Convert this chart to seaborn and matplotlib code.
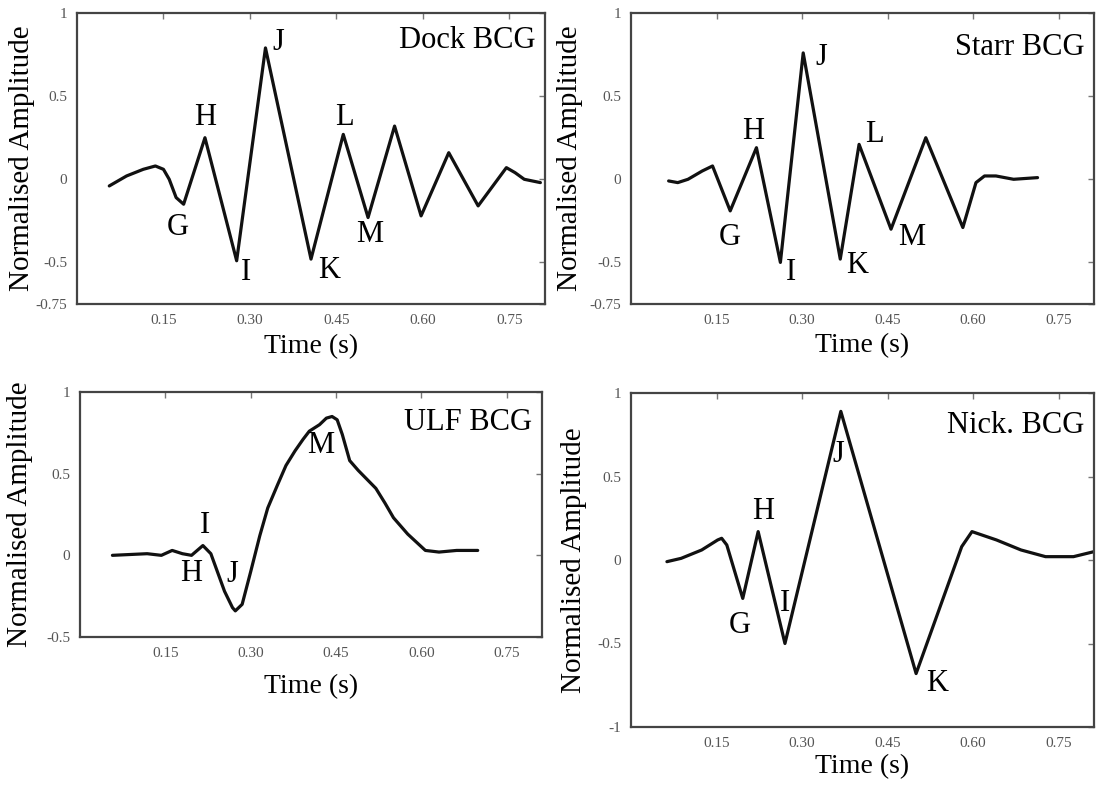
import numpy as np
import pandas as pd
import matplotlib
matplotlib.use("Agg")
import matplotlib.pyplot as plt
import seaborn as sns

# ---------------- data ----------------
dock_t = [0.056, 0.086, 0.115, 0.136, 0.150, 0.160, 0.172, 0.185, 0.222, 0.277,
          0.327, 0.406, 0.462, 0.505, 0.551, 0.597, 0.645, 0.696, 0.745, 0.760,
          0.776, 0.804]
dock_a = [-0.04, 0.02, 0.06, 0.08, 0.06, 0.00, -0.11, -0.15, 0.25, -0.49,
          0.79, -0.48, 0.27, -0.23, 0.32, -0.22, 0.16, -0.16, 0.07, 0.04,
          0.00, -0.02]
dock_labels = ["G", "H", "I", "J", "K", "L", "M"]
dock_lab_t = [0.175, 0.222, 0.293, 0.350, 0.437, 0.464, 0.508]
dock_lab_a = [-0.29, 0.37, -0.56, 0.82, -0.55, 0.37, -0.33]

starr_t = [0.066, 0.082, 0.100, 0.125, 0.143, 0.174, 0.220, 0.262, 0.302, 0.367,
           0.400, 0.456, 0.517, 0.582, 0.605, 0.620, 0.640, 0.671, 0.713]
starr_a = [-0.01, -0.02, 0.00, 0.05, 0.08, -0.19, 0.19, -0.50, 0.76, -0.48,
           0.21, -0.30, 0.25, -0.29, -0.02, 0.02, 0.02, 0.00, 0.01]
starr_labels = ["G", "H", "I", "J", "K", "L", "M"]
starr_lab_t = [0.174, 0.214, 0.281, 0.334, 0.396, 0.427, 0.492]
starr_lab_a = [-0.35, 0.29, -0.56, 0.73, -0.52, 0.27, -0.35]

ulf_t = [0.057, 0.118, 0.143, 0.162, 0.180, 0.196, 0.216, 0.230, 0.254, 0.268, 0.273,
         0.285, 0.300, 0.316, 0.330, 0.347, 0.362, 0.378, 0.392, 0.403, 0.421, 0.433,
         0.443, 0.452, 0.461, 0.474, 0.489, 0.520, 0.536, 0.551, 0.576, 0.607,
         0.631, 0.662, 0.699]
ulf_a = [0.00, 0.01, 0.00, 0.03, 0.01, 0.00, 0.06, 0.01, -0.22, -0.32, -0.34,
         -0.30, -0.10, 0.12, 0.29, 0.43, 0.55, 0.64, 0.71, 0.76, 0.80, 0.84,
         0.85, 0.83, 0.74, 0.58, 0.52, 0.41, 0.32, 0.23, 0.13, 0.03,
         0.02, 0.03, 0.03]
ulf_labels = ["I", "H", "J", "M"]
ulf_lab_t = [0.219, 0.196, 0.268, 0.423]
ulf_lab_a = [0.18, -0.11, -0.12, 0.67]

nick_t = [0.063, 0.088, 0.124, 0.152, 0.159, 0.168, 0.196, 0.223, 0.270, 0.368,
          0.500, 0.580, 0.598, 0.641, 0.684, 0.727, 0.776, 0.812]
nick_a = [-0.01, 0.01, 0.06, 0.12, 0.13, 0.09, -0.23, 0.17, -0.50, 0.89,
          -0.68, 0.08, 0.17, 0.12, 0.06, 0.02, 0.02, 0.05]
nick_labels = ["G", "H", "I", "J", "K"]
nick_lab_t = [0.191, 0.232, 0.270, 0.364, 0.537]
nick_lab_a = [-0.39, 0.29, -0.26, 0.63, -0.74]

titles = ["Dock BCG", "Starr BCG", "ULF BCG", "Nick. BCG"]
x_ticks = [0.15, 0.30, 0.45, 0.60, 0.75]
x_ticklabels = ["0.15", "0.30", "0.45", "0.60", "0.75"]
y_ticks_a = [1, 0.5, 0, -0.5, -0.75]
y_ticklabels_a = ["1", "0.5", "0", "-0.5", "-0.75"]
y_ticks_c = [1, 0.5, 0, -0.5]
y_ticklabels_c = ["1", "0.5", "0", "-0.5"]
y_ticks_d = [1, 0.5, 0, -0.5, -1]
y_ticklabels_d = ["1", "0.5", "0", "-0.5", "-1"]

# ---------------- style ----------------
sns.set_style("white")
plt.rcParams["font.family"] = ["Liberation Serif", "DejaVu Serif"]

W, H = 1098, 789
fig = plt.figure(figsize=(W / 100, H / 100), dpi=100)

def make_axes(left, right, top, bottom):
    return fig.add_axes([left / W, 1 - bottom / H, (right - left) / W, (bottom - top) / H])

panels = [
    dict(box=(77, 545, 13, 304), t=dock_t, a=dock_a, ylim=(-0.75, 1),
         yt=y_ticks_a, ytl=y_ticklabels_a, labs=(dock_labels, dock_lab_t, dock_lab_a),
         title_y=0.955, ylab_x=-0.090, xlab_y=-0.103),
    dict(box=(631, 1094, 13, 304), t=starr_t, a=starr_a, ylim=(-0.75, 1),
         yt=y_ticks_a, ytl=y_ticklabels_a, labs=(starr_labels, starr_lab_t, starr_lab_a),
         title_y=0.93, ylab_x=-0.104, xlab_y=-0.100),
    dict(box=(80, 542, 392, 637), t=ulf_t, a=ulf_a, ylim=(-0.5, 1),
         yt=y_ticks_c, ytl=y_ticklabels_c, labs=(ulf_labels, ulf_lab_t, ulf_lab_a),
         title_y=0.935, ylab_x=-0.102, xlab_y=-0.151),
    dict(box=(631, 1094, 393, 727), t=nick_t, a=nick_a, ylim=(-1, 1),
         yt=y_ticks_d, ytl=y_ticklabels_d, labs=(nick_labels, nick_lab_t, nick_lab_a),
         title_y=0.945, ylab_x=-0.095, xlab_y=-0.081),
]

for p, title in zip(panels, titles):
    ax = make_axes(*p["box"])
    df = pd.DataFrame({"t": p["t"], "a": p["a"]})
    sns.lineplot(data=df, x="t", y="a", ax=ax, color="#111111", linewidth=2.3,
                 sort=False, estimator=None, solid_joinstyle="round",
                 solid_capstyle="round")
    ax.set_xlim(0, 0.812)
    ax.set_ylim(*p["ylim"])
    ax.set_xticks(x_ticks)
    ax.set_xticklabels(x_ticklabels)
    ax.set_yticks(p["yt"])
    ax.set_yticklabels(p["ytl"])
    ax.tick_params(direction="in", length=4, width=1, colors="#777777",
                   labelcolor="#555555", labelsize=11, top=True, right=True,
                   pad=7)
    for s in ax.spines.values():
        s.set_visible(True)
        s.set_color("#444444")
        s.set_linewidth(1.6)
    ax.set_xlabel("Time (s)", fontsize=20, color="black")
    ax.set_ylabel("Normalised Amplitude", fontsize=21, color="black")
    ax.yaxis.set_label_coords(p["ylab_x"], 0.5)
    ax.xaxis.set_label_coords(0.5, p["xlab_y"])
    ax.xaxis.label.set_va("top")
    ax.yaxis.label.set_va("bottom")
    ax.text(0.979, p["title_y"], title, transform=ax.transAxes, ha="right", va="top",
            fontsize=22, color="black")
    labs, lt, la = p["labs"]
    for s, tx, ty in zip(labs, lt, la):
        ax.text(tx, ty, s, ha="center", va="center", fontsize=22, color="black")

fig.savefig("out.png", dpi=100, facecolor="white")
